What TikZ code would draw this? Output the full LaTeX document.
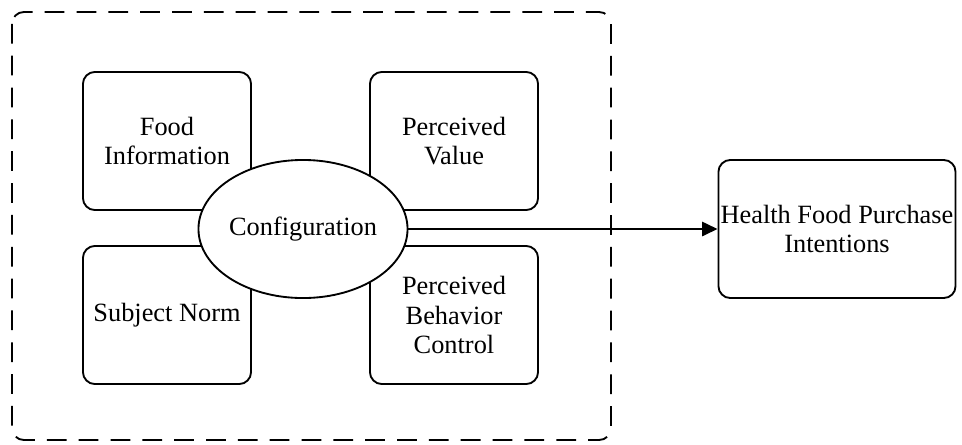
\documentclass[tikz,border=0pt]{standalone}
\usepackage{fontspec}
\setmainfont{Liberation Serif}
\usetikzlibrary{arrows.meta,shapes.geometric}

\begin{document}
\begin{tikzpicture}[x=0.016cm,y=-0.016cm,
        factor/.style={draw,line width=0.85pt,rounded corners=0.19cm,
          minimum width=2.69cm,minimum height=2.21cm,align=center,
          inner sep=1pt,font=\fontsize{12}{13.6}\selectfont},
        core/.style={draw,ellipse,fill=white,line width=0.85pt,
          minimum width=3.31cm,minimum height=2.21cm,inner sep=0pt,
          font=\fontsize{12}{13.6}\selectfont}]

        \useasboundingbox (0,0) rectangle (962,444);

        % dashed frame round the four factors
        \draw[line width=0.85pt,dash pattern=on 9pt off 5.5pt,rounded corners=0.19cm]
          (12,12) rectangle (611,440);

        \node[factor] (food) at (167,141) {Food\\Information};
        \node[factor] (value) at (454,141) {Perceived\\Value};
        \node[factor] (norm) at (167,315) {Subject Norm};
        \node[factor] (control) at (454,315) {Perceived\\Behavior\\Control};

        \node[core] (config) at (303,229) {Configuration};

        \node[factor,minimum width=3.68cm] (intent) at (837,229) {Health Food Purchase\\Intentions};

        \draw[line width=0.85pt,-{Triangle[length=7pt,width=6.5pt]}] (config.east) -- (intent.west);

\end{tikzpicture}
\end{document}
